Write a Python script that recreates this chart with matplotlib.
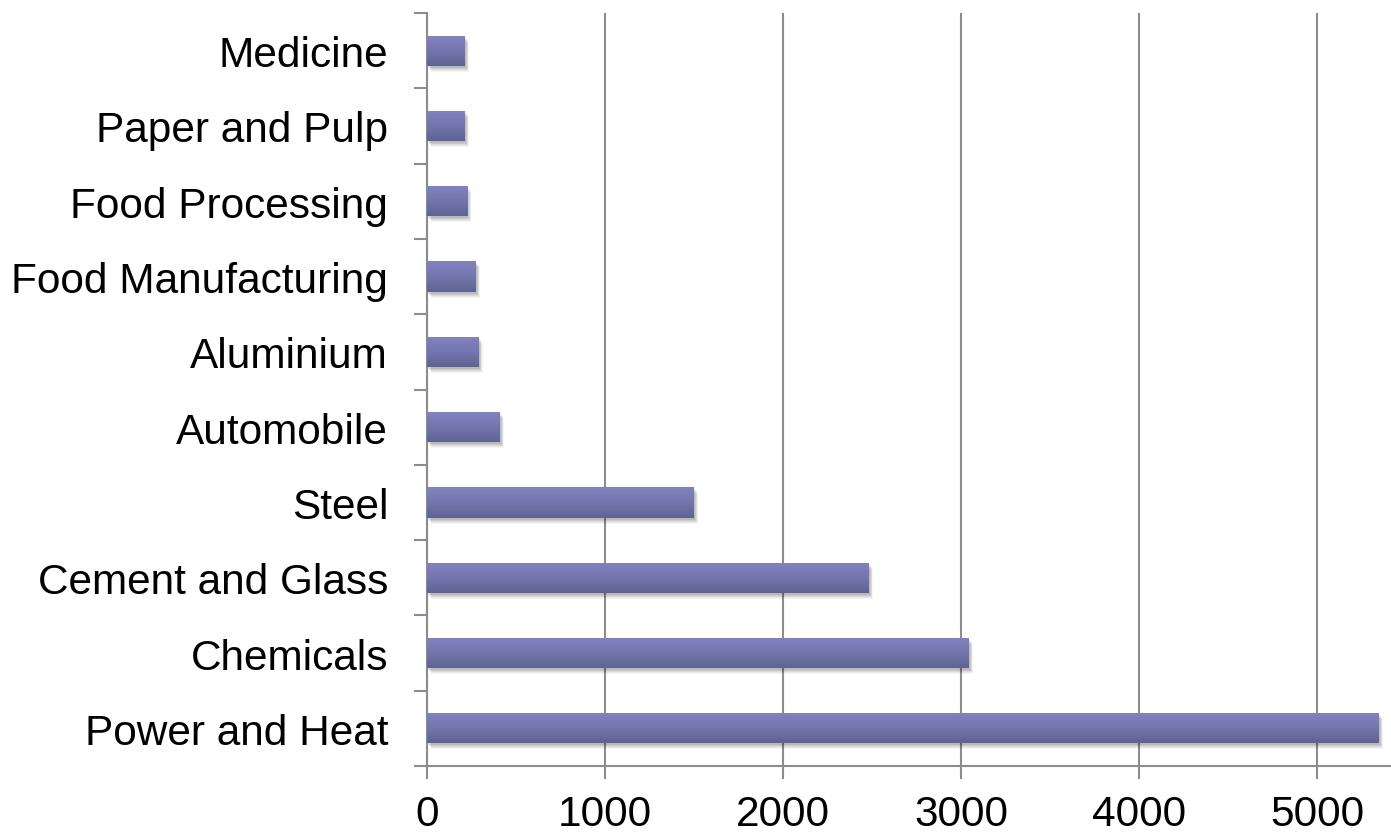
import numpy as np
import matplotlib
matplotlib.use("Agg")
import matplotlib.pyplot as plt
import matplotlib.transforms as mtransforms
from matplotlib.colors import LinearSegmentedColormap

plt.rcParams['font.family'] = ['Liberation Sans', 'DejaVu Sans']

# bottom to top
sectors = ["Power and Heat", "Chemicals", "Cement and Glass", "Steel", "Automobile",
           "Aluminium", "Food Manufacturing", "Food Processing", "Paper and Pulp", "Medicine"]
values = [5348, 3045, 2482, 1500, 410, 290, 275, 225, 213, 213]
xticks = [0, 1000, 2000, 3000, 4000, 5000]

fig = plt.figure(figsize=(13.91, 8.37), dpi=100)
ax = fig.add_axes([427 / 1391, 70 / 837, 964 / 1391, 753 / 837])

grid_col = "#8c8c8c"
bar_h = 0.4
ypos = np.arange(len(sectors))

bars = ax.barh(ypos, values, height=bar_h, color="#7475ad", zorder=3)

# soft drop shadow under each bar
for k, a in [(6, 0.04), (5, 0.05), (4, 0.06), (3, 0.07), (2, 0.08)]:
    off = mtransforms.offset_copy(ax.transData, fig=fig, x=k * 0.7, y=-k, units="dots")
    ax.barh(ypos, values, height=bar_h, color="black", alpha=a, transform=off,
            zorder=2, linewidth=0)

# vertical gradient fill
cmap = LinearSegmentedColormap.from_list("bar", ["#5f6392", "#7476ae", "#8282c1"])
grad = np.linspace(0, 1, 64).reshape(-1, 1)
for b in bars:
    x0, y0 = b.get_x(), b.get_y()
    im = ax.imshow(grad, cmap=cmap, aspect="auto", origin="lower",
                   extent=[x0, x0 + b.get_width(), y0, y0 + b.get_height()], zorder=4)
    im.set_clip_path(b)

ax.set_xlim(0, 5416)
ax.set_ylim(-0.5, len(sectors) - 0.5)

ax.set_xticks(xticks)
ax.set_xticklabels([str(t) for t in xticks])
ax.set_yticks(ypos)
ax.set_yticklabels(sectors)
ax.set_yticks(np.arange(-0.5, len(sectors)), minor=True)

ax.tick_params(axis="y", which="major", length=0, pad=28, labelsize=30.5)
ax.tick_params(axis="y", which="minor", length=9.5, width=1.5, color=grid_col, direction="out")
ax.tick_params(axis="x", which="major", length=9, width=1.5, color=grid_col, pad=11, labelsize=30.5)

ax.xaxis.grid(True, color=grid_col, linewidth=1.5, zorder=0)
ax.set_axisbelow(True)

for s in ["top", "right"]:
    ax.spines[s].set_visible(False)
for s in ["left", "bottom"]:
    ax.spines[s].set_color(grid_col)
    ax.spines[s].set_linewidth(1.5)

fig.savefig("out.png", dpi=100)
